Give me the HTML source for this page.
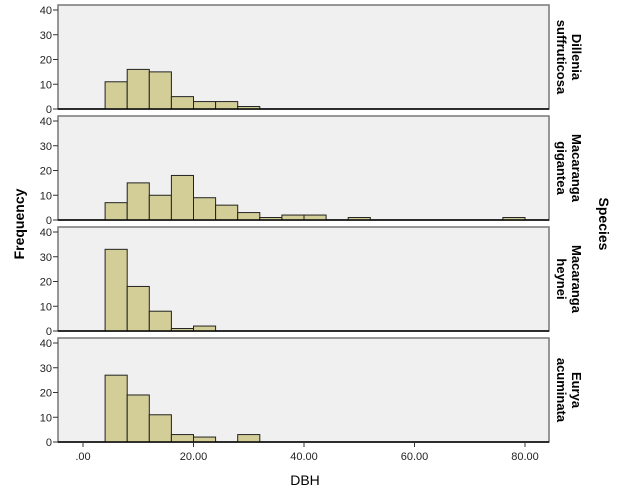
<!DOCTYPE html>
<html><head><meta charset="utf-8"><style>
html,body{margin:0;padding:0;background:#fff;}
svg{display:block;font-family:"Liberation Sans",sans-serif;}
</style></head><body>
<svg id="chart" width="626" height="501"></svg>
<script>
const species = [["Dillenia","suffruticosa"],["Macaranga","gigantea"],["Macaranga","heynei"],["Eurya","acuminata"]];
const binStarts = [4,8,12,16,20,24,28,32,36,40,44,48,52,56,60,64,68,72,76];
const counts0 = [11,16,15,5,3,3,1,0,0,0,0,0,0,0,0,0,0,0,0];
const counts1 = [7,15,10,18,9,6,3,1,2,2,0,1,0,0,0,0,0,0,1];
const counts2 = [33,18,8,1,2,0,0,0,0,0,0,0,0,0,0,0,0,0,0];
const counts3 = [27,19,11,3,2,0,3,0,0,0,0,0,0,0,0,0,0,0,0];
const allCounts = [counts0,counts1,counts2,counts3];
const binWidth = 4;
const xTicks = [0,20,40,60,80];
const xTickLabels = [".00","20.00","40.00","60.00","80.00"];
const yTicks = [0,10,20,30,40];

const NS="http://www.w3.org/2000/svg";
const svg=document.getElementById('chart');
function el(t,a,p){const e=document.createElementNS(NS,t);for(const k in a)e.setAttribute(k,a[k]);(p||svg).appendChild(e);return e;}
const PL=58,PR=549,panelTop0=5,panelStep=111,panelH=104;
const x=v=>83+v*5.525;
const y=(i,v)=>panelTop0+panelStep*i+panelH-v*2.475;

for(let i=0;i<4;i++){
  const top=panelTop0+panelStep*i, bot=top+panelH;
  const g=el('g',{});
  
  
  const bg=el('rect',{x:PL,y:top,width:PR-PL,height:panelH,fill:'#f0f0f0',stroke:'#777','stroke-width':1.5},g);
  
  
  allCounts[i].forEach((c,j)=>{
    if(!c)return;
    const r=el('rect',{x:x(binStarts[j]),y:y(i,c),width:x(binStarts[j]+binWidth)-x(binStarts[j]),height:y(i,0)-y(i,c),fill:'#d3ce97',stroke:'#222','stroke-width':1},g);
    
    
  });
  el('line',{x1:PL,x2:PR,y1:bot,y2:bot,stroke:'#000','stroke-width':1.5},g);
  yTicks.forEach(t=>{
    el('line',{x1:PL-5,x2:PL,y1:y(i,t),y2:y(i,t),stroke:'#333'},g);
    const tx=el('text',{x:PL-6,y:y(i,t)+4,'font-size':11,'text-anchor':'end',fill:'#222'},g);
    tx.textContent=t;
    
    
  });
  const cy=top+panelH/2;
  const lab=el('text',{transform:`translate(572,${cy}) rotate(90)`,'font-size':13,'font-weight':'bold','text-anchor':'middle'},g);
  
  
  el('tspan',{x:0,y:0},lab).textContent=species[i][0];
  el('tspan',{x:0,y:15},lab).textContent=species[i][1];
}
xTicks.forEach((t,k)=>{
  el('line',{x1:x(t),x2:x(t),y1:442,y2:447,stroke:'#333'});
  const tx=el('text',{x:x(t),y:460,'font-size':11,'text-anchor':'middle',fill:'#222'});
  tx.textContent=xTickLabels[k];
  
  
});
const xt=el('text',{x:305,y:485,'font-size':14,'text-anchor':'middle'});
xt.textContent='DBH';


const yt=el('text',{transform:'translate(24,224) rotate(-90)','font-size':14,'font-weight':'bold','text-anchor':'middle'});
yt.textContent='Frequency';


const st=el('text',{transform:'translate(599,224) rotate(90)','font-size':14,'font-weight':'bold','text-anchor':'middle'});
st.textContent='Species';


</script>
</body></html>
